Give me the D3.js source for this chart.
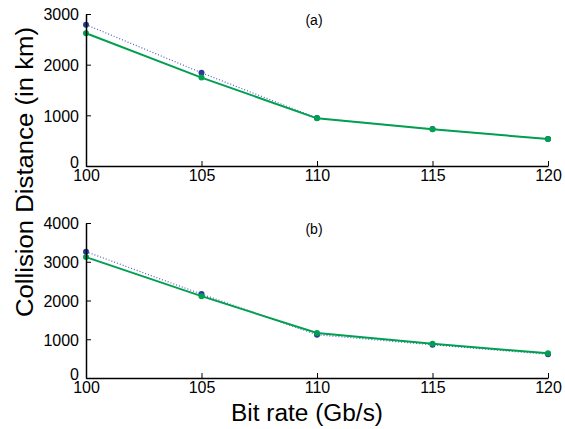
<!DOCTYPE html>
<html>
<head>
<meta charset="utf-8">
<script src="https://cdn.jsdelivr.net/npm/d3@7"></script>
<style>
body { margin: 0; background: #fff; }
text { font-family: "Liberation Sans", Arial, sans-serif; }
</style>
</head>
<body>
<div id="chart"></div>
<script>
var bitRates = [100, 105, 110, 115, 120];
var blueA = [2790, 1840, 945, 728, 535];
var greenA = [2620, 1745, 941, 724, 533];
var blueB = [3260, 2165, 1115, 858, 612];
var greenB = [3120, 2112, 1160, 884, 636];
var ticksA = [0, 1000, 2000, 3000];
var ticksB = [0, 1000, 2000, 3000, 4000];

var svg = d3.select("#chart").append("svg").attr("width", 565).attr("height", 429);

var x = d3.scaleLinear().domain([100, 120]).range([86, 548]);

function panel(top, bottom, ymax, yticks, blue, green, label) {
    var y = d3.scaleLinear().domain([0, ymax]).range([bottom, top]);
    var g = svg.append("g");

    var line = d3.line().x(function(d, i) { return x(bitRates[i]); }).y(function(d) { return y(d); });

    g.append("path").datum(blue).attr("d", line)
        .attr("fill", "none").attr("stroke", "#5060c0").attr("stroke-width", 1.2)
        .attr("stroke-dasharray", "1,2");
    g.selectAll(".bdot").data(blue).enter().append("circle")
        .attr("cx", function(d, i) { return x(bitRates[i]); })
        .attr("cy", function(d) { return y(d); })
        .attr("r", 3).attr("fill", "#2c3a98");

    g.append("path").datum(green).attr("d", line)
        .attr("fill", "none").attr("stroke", "#00a050").attr("stroke-width", 2);
    g.selectAll(".gdot").data(green).enter().append("circle")
        .attr("cx", function(d, i) { return x(bitRates[i]); })
        .attr("cy", function(d) { return y(d); })
        .attr("r", 3).attr("fill", "#00a050");

    var xa = g.append("g").attr("transform", "translate(0," + bottom + ")")
        .call(d3.axisBottom(x).tickValues(bitRates).tickFormat(d3.format("d"))
            .tickSizeInner(-5).tickSizeOuter(0).tickPadding(3));
    var ya = g.append("g").attr("transform", "translate(" + x(100) + ",0)")
        .call(d3.axisLeft(y).tickValues(yticks).tickFormat(d3.format("d"))
            .tickSizeInner(-5).tickSizeOuter(0).tickPadding(7));
    [xa, ya].forEach(function(a) {
        a.attr("font-size", null).attr("font-family", null);
        a.select(".domain").attr("stroke", "#000").attr("stroke-width", 1.5);
        a.selectAll(".tick line").attr("stroke", "#000").attr("stroke-width", 1);
        a.selectAll(".tick text").style("font-size", "16px").attr("fill", "#000");
    });
    xa.selectAll(".tick text").attr("dy", "0.75em");
    ya.selectAll(".tick text").attr("dy", function(d) { return d === 0 ? "0.1em" : "0.36em"; });

    g.append("text").attr("x", 314).attr("y", top + 11).attr("text-anchor", "middle")
        .style("font-size", "14px").text(label);
}

panel(14, 166, 3000, ticksA, blueA, greenA, "(a)");
panel(223, 378, 4000, ticksB, blueB, greenB, "(b)");

svg.append("text").attr("transform", "translate(33,172) rotate(-90)")
    .attr("text-anchor", "middle").style("font-size", "23px")
    .attr("textLength", 290).attr("lengthAdjust", "spacingAndGlyphs")
    .text("Collision Distance (in km)");
svg.append("text").attr("x", 307).attr("y", 421)
    .attr("text-anchor", "middle").style("font-size", "23px")
    .attr("textLength", 152).attr("lengthAdjust", "spacingAndGlyphs")
    .text("Bit rate (Gb/s)");
</script>
</body>
</html>
